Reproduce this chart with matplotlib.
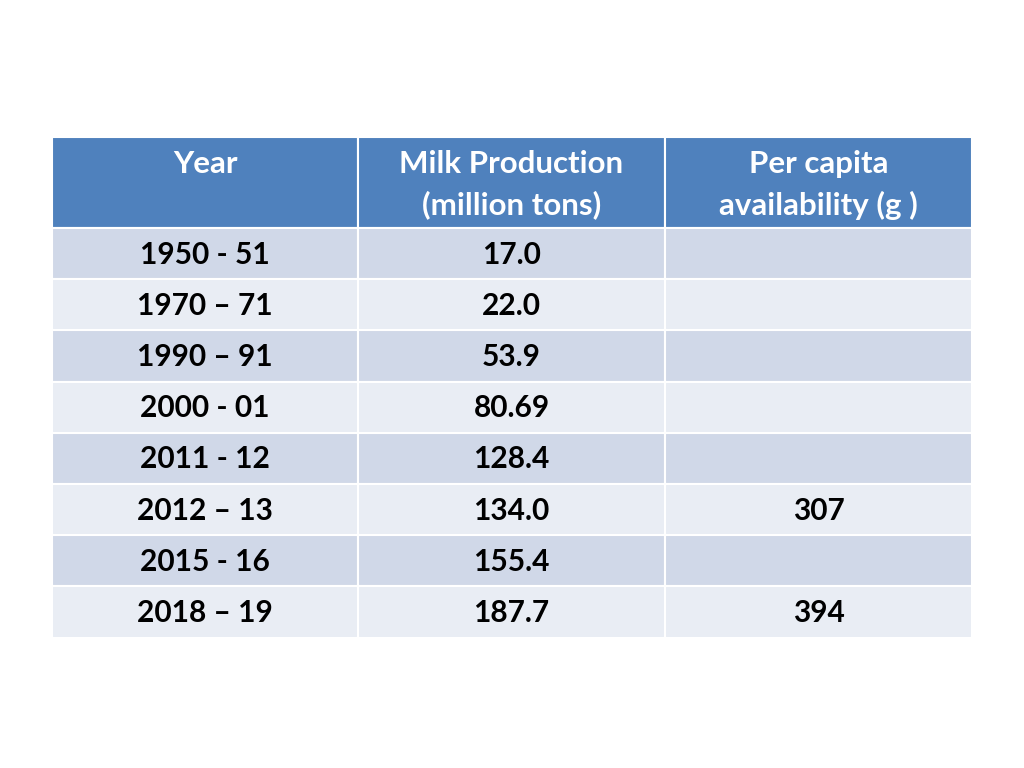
import matplotlib.pyplot as plt
from matplotlib.patches import Rectangle

# table content
headers = [['Year'], ['Milk Production', '(million tons)'], ['Per capita', 'availability (g )']]
years = ['1950 - 51', '1970 \u2013 71', '1990 \u2013 91', '2000 - 01', '2011 - 12',
         '2012 \u2013 13', '2015 - 16', '2018 \u2013 19']
milk = ['17.0', '22.0', '53.9', '80.69', '128.4', '134.0', '155.4', '187.7']
per_capita = ['', '', '', '', '', '307', '', '394']

HEADER_COLOR = '#4F81BD'
ODD_COLOR = '#D0D8E8'
EVEN_COLOR = '#E9EDF4'

col_edges = [52, 358, 665, 972]
header_top, header_bottom = 137, 228
row_h = 51.2
FONT = ['Lato', 'DejaVu Sans']


def main():
    fig = plt.figure(figsize=(10.24, 7.68), dpi=100)
    ax = fig.add_axes([0, 0, 1, 1])
    ax.set_xlim(0, 1024)
    ax.set_ylim(768, 0)
    ax.axis('off')

    # header row, each line placed on its own
    for i, lines in enumerate(headers):
        x0, x1 = col_edges[i], col_edges[i + 1]
        ax.add_patch(Rectangle((x0, header_top), x1 - x0, header_bottom - header_top,
                               facecolor=HEADER_COLOR, edgecolor='white', linewidth=1.5))
        for k, line in enumerate(lines):
            ax.text((x0 + x1) / 2, 164 + 41 * k, line, ha='center', va='center',
                    color='white', fontsize=22.5, fontweight='bold', family=FONT)

    # body rows
    columns = [years, milk, per_capita]
    for r in range(len(years)):
        y0 = header_bottom + r * row_h
        color = ODD_COLOR if r % 2 == 0 else EVEN_COLOR
        for c, col in enumerate(columns):
            x0, x1 = col_edges[c], col_edges[c + 1]
            ax.add_patch(Rectangle((x0, y0), x1 - x0, row_h,
                                   facecolor=color, edgecolor='white', linewidth=1.5))
            if col[r]:
                ax.text((x0 + x1) / 2, y0 + row_h / 2 + 1, col[r], ha='center', va='center',
                        color='black', fontsize=21.5, fontweight='bold', family=FONT)

    fig.savefig('out.png', dpi=100, facecolor='white')


if __name__ == '__main__':
    main()
